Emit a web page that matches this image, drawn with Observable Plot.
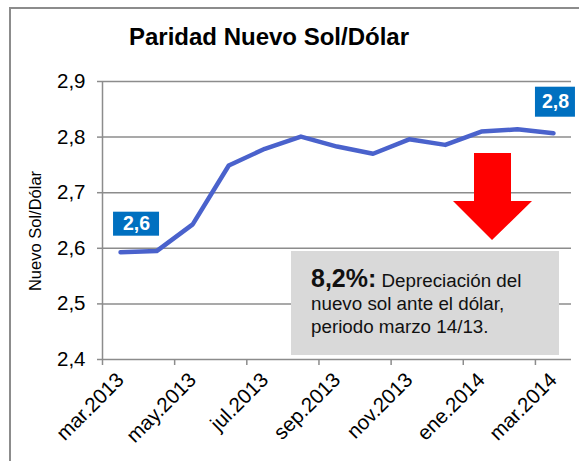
<!DOCTYPE html>
<html><head><meta charset="utf-8">
<script src="https://cdn.jsdelivr.net/npm/d3@7"></script>
<script src="https://cdn.jsdelivr.net/npm/@observablehq/plot@0.6"></script>
<style>
body{margin:0;background:#fff;font-family:"Liberation Sans",Arial,sans-serif;}
#wrap{position:relative;width:579px;height:461px;overflow:hidden;background:#fff;}
#border{position:absolute;left:9px;top:7px;width:700px;height:600px;border-left:2px solid #8c8c8c;border-top:2px solid #8c8c8c;}
#title{position:absolute;left:0;width:538px;top:25px;text-align:center;font-weight:bold;font-size:24px;line-height:24px;color:#000;}
#chart{position:absolute;left:0;top:60px;}
#ylabel{position:absolute;left:35px;top:231px;width:0;height:0;}
#ylabel span{position:absolute;left:0;top:0;transform:translate(-50%,-50%) rotate(-90deg);white-space:nowrap;font-size:16.5px;line-height:17px;color:#000;}
#note{position:absolute;left:291px;top:251px;width:268px;height:104px;background:#d9d9d9;box-sizing:border-box;padding:16px 0 0 20px;font-size:18.8px;line-height:23px;color:#111;}
#note b{font-size:25px;}
#arrow{position:absolute;left:453px;top:153px;width:79px;height:87px;background:#ff0000;clip-path:polygon(21px 0,58px 0,58px 48px,79px 48px,39px 87px,0 48px,21px 48px);}
</style>
</head><body>
<div id="wrap">
  <div id="border"></div>
  <div id="title">Paridad Nuevo Sol/Dólar</div>
  <div id="chart"></div>
  <div id="ylabel"><span id="ylabelText"></span></div>
  <div id="arrow"></div>
  <div id="note"><b>8,2%:</b> Depreciación del<br>nuevo sol ante el dólar,<br>periodo marzo 14/13.</div>
</div>
<script>
const months = ["mar.2013","abr.2013","may.2013","jun.2013","jul.2013","ago.2013","sep.2013","oct.2013","nov.2013","dic.2013","ene.2014","feb.2014","mar.2014"];
const values = [2.593, 2.595, 2.643, 2.749, 2.779, 2.801, 2.783, 2.770, 2.796, 2.786, 2.810, 2.814, 2.807];
const yTicks = [2.4, 2.5, 2.6, 2.7, 2.8, 2.9];
const yLabel = "Nuevo Sol/Dólar";

document.getElementById("ylabelText").textContent = yLabel;

const fmt = d3.formatLocale({decimal: ",", thousands: ".", grouping: [3], currency: ["", ""]}).format(".1f");
const data = months.map((m, i) => ({i, m, v: values[i]}));
const first = [data[0]];
const last = [data[data.length - 1]];
const boundaries = d3.range(-0.5, months.length - 1, 2);
const labelIdx = d3.range(0, months.length, 2);
const gray = "#8c8c8c";

const chart = Plot.plot({
  width: 579, height: 401,
  marginTop: 21, marginBottom: 102, marginLeft: 102, marginRight: 8,
  x: {type: "linear", domain: [-0.5, months.length - 0.5], label: null},
  y: {domain: [yTicks[0], yTicks[yTicks.length - 1]], label: null},
  style: {fontFamily: "Liberation Sans, Arial, sans-serif", fontSize: "20px", color: "#000", background: "transparent", overflow: "visible"},
  marks: [
    Plot.gridY(yTicks, {stroke: gray, strokeOpacity: 1, strokeWidth: 1.5}),
    Plot.ruleX([-0.5], {stroke: gray, strokeWidth: 1.5}),
    Plot.axisY(yTicks, {tickFormat: fmt, tickSize: 5, tickPadding: 12, stroke: gray, strokeWidth: 1.5, fontSize: 20.5, label: null}),
    Plot.axisX(boundaries, {tickSize: 6, tickFormat: () => "", stroke: gray, strokeWidth: 1.5, label: null}),
    Plot.axisX(labelIdx, {tickSize: 0, tickFormat: i => months[i], tickRotate: -45, tickPadding: 17, fontSize: 20.5, label: null}),
    Plot.line(data, {x: "i", y: "v", stroke: "#4a62cc", strokeWidth: 4.5}),
    Plot.rect(first, {x1: "i", x2: "i", y1: "v", y2: "v", insetLeft: -23, insetRight: -23, insetTop: -12, insetBottom: -12, dx: 16, dy: -28, fill: "#0070c0"}),
    Plot.text(first, {x: "i", y: "v", text: d => fmt(d.v), dx: 16, dy: -28, fill: "white", fontWeight: "bold", fontSize: 19.5}),
    Plot.rect(last, {x1: "i", x2: "i", y1: "v", y2: "v", insetLeft: -20, insetRight: -20, insetTop: -15, insetBottom: -15, dx: 2, dy: -31, fill: "#0070c0"}),
    Plot.text(last, {x: "i", y: "v", text: d => fmt(d.v), dx: 2, dy: -31, fill: "white", fontWeight: "bold", fontSize: 19.5})
  ]
});
document.getElementById("chart").appendChild(chart);
</script>
</body></html>
